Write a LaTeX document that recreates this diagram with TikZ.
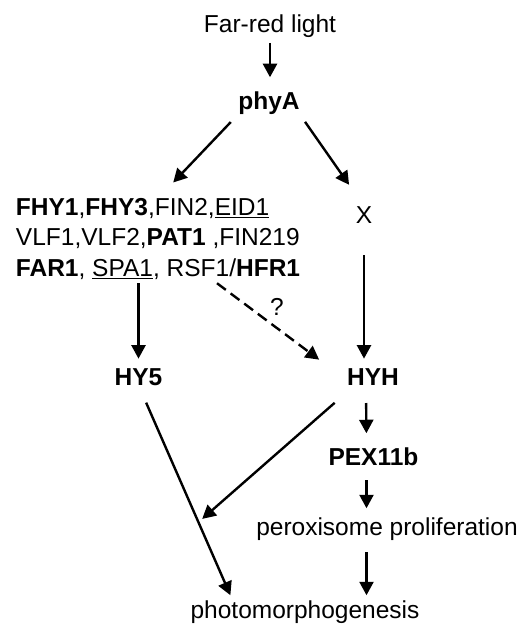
\documentclass[tikz,border=0pt]{standalone}
\usepackage{fontspec}
\setmainfont{Liberation Sans}
\usetikzlibrary{arrows.meta,calc}
\begin{document}
\begin{tikzpicture}[x=1pt,y=-1pt,
  lbl/.style={inner sep=0pt, outer sep=0pt, font=\fontsize{24.5}{30.3}\selectfont},
  bflbl/.style={lbl, font=\fontsize{24.5}{30.3}\selectfont\bfseries},
  arr/.style={line width=2.4pt, -{Triangle[length=13.5pt,width=14pt]}},
  darr/.style={arr, dash pattern=on 11pt off 6pt}]
\useasboundingbox (0,0) rectangle (525,626);
% nodes
\node[lbl, anchor=base] (far) at (270,33) {Far-red light};
\node[bflbl, anchor=base] (phya) at (269,109) {phyA};
\node[lbl, anchor=north west, align=left] (regs) at (16,198.4)
  {\textbf{FHY1},\textbf{FHY3},FIN2,\underline{EID1}\\
   VLF1,VLF2,\textbf{PAT1} ,FIN219\\
   \textbf{FAR1}, \underline{SPA1}, RSF1/\textbf{HFR1}};
\node[lbl, anchor=base] (x) at (364,223) {X};
\node[bflbl, anchor=base] (hy5) at (138.5,385) {HY5};
\node[bflbl, anchor=base] (hyh) at (373,385) {HYH};
\node[lbl, anchor=base] (q) at (277,315) {?};
\node[bflbl, anchor=base] (pex) at (373.5,465) {PEX11b};
\node[lbl, anchor=base] (perox) at (387,535) {peroxisome proliferation};
\node[lbl, anchor=base] (photo) at (305,618) {photomorphogenesis};
% connectors
\draw[arr, shorten <=4.8pt, shorten >=14pt] (far) -- (far.south |- phya.north);
\draw[arr, shorten <=11pt, shorten >=22pt] (phya.south west) -- (regs.north);
\draw[arr, shorten <=9.5pt, shorten >=26pt] (phya.south east) -- (x.north);
\draw[arr, shorten <=4pt, shorten >=9.5pt] (hy5.north |- regs.south) -- (hy5.north);
\coordinate (ds) at ($(regs.south west)+(201,4)$);
\coordinate (de) at ($(hyh.north west)+(-28,-8.5)$);
\draw[darr] (ds) -- (de);
\draw[arr, shorten <=32pt, shorten >=9.5pt] (x.south) -- (x.south |- hyh.north);
\draw[arr, shorten <=18pt, shorten >=14pt] ([xshift=-7pt]hyh.south) -- ([xshift=-7pt]pex.north);
\draw[arr, shorten <=15pt, shorten >=9pt] ([xshift=-7pt]pex.south) -- ([xshift=-7pt]pex.south |- perox.north);
\draw[arr, shorten <=12pt, shorten >=5pt] ([xshift=-7pt]pex.south |- perox.south) -- ([xshift=-7pt]pex.south |- photo.north);
\draw[arr, shorten <=19pt, shorten >=5.5pt] (hy5.south) -- coordinate[pos=0.637] (mid) ($(photo.north west)+(42,0)$);
\draw[arr, shorten <=27pt, shorten >=5pt] ([xshift=-18pt]hyh.south) -- (mid);
\end{tikzpicture}
\end{document}
